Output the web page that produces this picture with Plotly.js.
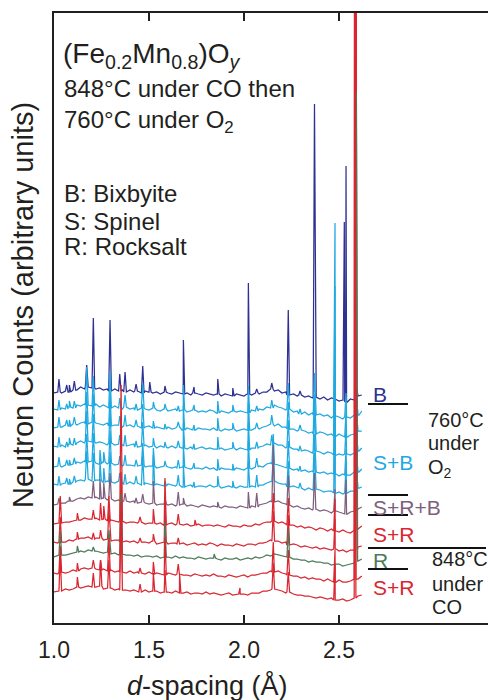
<!DOCTYPE html>
<html>
<head>
<meta charset="utf-8">
<script src="https://cdn.plot.ly/plotly-3.0.1.min.js"></script>
<style>
  html, body { margin: 0; padding: 0; background: #ffffff; }
  #chart { width: 488px; height: 700px; }
</style>
</head>
<body>
<div id="chart"></div>
<script>
// d-spacing sampling grid (Å) shared by every diffraction pattern
const dGrid = [
  1.00,1.02,1.04,1.06,1.08,1.10,1.12,1.14,1.16,1.18,
  1.20,1.22,1.24,1.26,1.28,1.30,1.32,1.34,1.36,1.38,
  1.40,1.42,1.44,1.46,1.48,1.50,1.52,1.54,1.56,1.58,
  1.60,1.62,1.64,1.66,1.68,1.70,1.72,1.74,1.76,1.78,
  1.80,1.82,1.84,1.86,1.88,1.90,1.92,1.94,1.96,1.98,
  2.00,2.02,2.04,2.06,2.08,2.10,2.12,2.14,2.16,2.18,
  2.20,2.22,2.24,2.26,2.28,2.30,2.32,2.34,2.36,2.38,
  2.40,2.42,2.44,2.46,2.48,2.50,2.52,2.54,2.56,2.58,
  2.60,2.62
];

// Vertical stacking offset of each pattern (arbitrary units), top to bottom
const offsets = [230, 213, 195, 176, 156, 138, 118, 99, 80, 66, 49, 31];

// Line colour per pattern: B, S+B (x5), S+R+B, S+R (x2), R, S+R (x2)
const colB = '#2e3192', colSB = '#1fa9e1', colSRB = '#7e5f7e', colSR = '#d92630', colR = '#4d7a58';
const lineColors = [colB, colSB, colSB, colSB, colSB, colSB, colSRB, colSR, colSR, colR, colSR, colSR];

// Background counts of each pattern on dGrid, relative to its offset
const bg1 = [0,1,0,2,1,3,3,6,4,6, 5,4,5,3,4,2,4,2,3,1, 3,1,2,0,2,1,0,1,-1,1, 0,-1,1,0,-1,0,-2,0,-1,-2,
  0,-1,-2,-1,-3,-1,-2,-3,-1,-2, -3,-1,-2,0,-1,1,1,4,2,3, 0,1,-2,-1,-3,-2,-4,-3,-5,-4, -6,-4,-7,-5,-6,-8,-7,-9,-6,-7, -3,-2];
const bg2 = [1,0,2,1,3,2,5,4,6,5, 4,6,3,5,3,2,4,2,1,3, 1,2,0,2,1,0,2,0,-1,1, -1,0,1,-1,0,-2,-1,0,-2,-1,
  -2,0,-1,-3,-1,-2,-3,-1,-2,-1, -2,-3,0,-1,1,0,3,2,5,3, 2,0,1,-2,-1,-4,-2,-5,-3,-5, -4,-6,-5,-8,-6,-7,-9,-7,-8,-5, -5,-1];
const bg3 = [0,1,1,3,2,4,3,5,6,4, 6,5,4,3,5,2,3,3,1,2, 3,1,2,0,1,2,0,1,0,-1, 1,-1,0,1,-2,0,-1,-2,0,-1,
  -1,-2,0,-2,-3,-1,-2,-1,-3,-2, -1,-2,-2,0,-1,1,2,4,2,4, 1,1,-1,-1,-3,-2,-3,-5,-4,-6, -4,-5,-7,-6,-8,-6,-8,-9,-7,-6, -3,-3];
const bg4 = [1,0,2,0,3,2,4,6,4,6, 5,4,5,4,2,4,2,3,2,1, 2,3,0,1,2,0,1,-1,1,0, -1,1,-1,0,-1,-2,0,-2,-1,0,
  -2,-1,-2,-2,-1,-3,-2,-1,-3,-1, -2,-3,-1,-1,0,1,3,2,4,2, 2,-1,0,-2,-2,-4,-3,-4,-6,-4, -5,-7,-5,-6,-8,-7,-8,-7,-8,-6, -4,-1];
const bg5 = [0,1,0,2,2,3,5,4,6,5, 6,4,3,5,3,4,2,3,1,2, 2,1,1,2,0,1,1,-1,0,1, 0,-1,0,-1,0,-1,-2,-1,-1,-2,
  0,-2,-1,-3,-1,-2,-2,-3,-1,-2, -3,-1,-2,0,1,0,3,4,3,2, 1,0,-1,-3,-2,-4,-3,-5,-4,-5, -6,-5,-7,-6,-7,-9,-7,-8,-8,-5, -5,-2];
const bg6 = [1,0,1,2,1,3,4,5,4,6, 4,5,5,3,4,3,2,4,2,1, 3,1,2,0,2,1,0,1,0,-1, 1,0,-1,0,-2,-1,0,-2,-1,-1,
  -2,0,-2,-1,-3,-2,-1,-2,-3,-1, -2,-2,-1,-2,0,0,2,3,4,2, 1,1,-2,-1,-3,-3,-5,-3,-5,-4, -5,-7,-6,-6,-8,-7,-9,-8,-6,-6, -3,-2];
const bg7 = [0,1,2,2,4,4,6,7,6,8, 7,8,6,7,5,6,4,5,3,4, 3,4,2,3,2,1,2,0,1,1, 0,1,-1,0,1,-1,0,-1,-2,0,
  -1,-2,-1,-2,-3,-1,-2,-2,-3,-1, -2,-3,-1,-2,0,1,2,4,3,4, 2,1,0,-2,-1,-3,-4,-3,-5,-4, -6,-5,-6,-8,-6,-7,-8,-9,-7,-6, -4,-2];
const bg8 = [0,1,1,2,2,3,4,4,6,5, 5,6,4,5,3,4,3,2,3,1, 2,2,1,2,0,1,1,0,1,-1, 0,1,-1,0,-1,0,-2,-1,0,-2,
  -1,-1,-2,-1,-2,-3,-1,-2,-2,-3, -1,-2,-2,0,-1,1,2,2,3,1, 2,0,-1,-1,-3,-2,-4,-3,-4,-6, -4,-5,-7,-5,-7,-8,-6,-8,-9,-6, -5,-2];
const bg9 = [1,0,1,1,3,2,4,5,5,6, 4,5,5,3,4,2,3,3,1,2, 1,2,0,1,1,0,2,-1,0,1, -1,0,0,-1,0,-2,-1,0,-2,-1,
  -2,0,-1,-3,-1,-2,-2,-3,-1,-2, -3,-1,-1,-2,0,0,1,3,2,2, 0,1,-2,-1,-2,-4,-3,-4,-5,-4, -6,-5,-6,-7,-6,-8,-7,-9,-7,-7, -4,-3];
const bg10 = [0,1,2,2,3,4,5,6,5,7, 6,6,5,4,5,3,4,2,3,2, 2,1,2,0,1,1,0,1,-1,0, 0,-1,1,-1,0,-1,-1,-2,0,-1,
  -2,-1,-1,-2,-3,-1,-2,-2,-1,-3, -2,-1,-2,0,-1,0,2,1,3,2, 1,0,0,-2,-2,-3,-3,-5,-4,-5, -5,-6,-6,-8,-7,-7,-9,-8,-7,-6, -4,-2];
const bg11 = [1,0,2,1,2,4,3,5,6,5, 6,5,4,5,3,4,2,3,2,1, 3,1,2,1,0,2,0,1,0,-1, 1,0,-1,0,-1,-1,-2,0,-1,-2,
  -1,-2,0,-2,-2,-3,-1,-2,-3,-2, -1,-3,-1,-1,0,1,1,3,2,3, 1,0,-1,-2,-2,-4,-3,-5,-4,-5, -5,-7,-5,-7,-8,-6,-8,-8,-7,-5, -5,-2];
const bg12 = [0,1,1,3,2,3,5,4,5,6, 5,5,6,3,4,4,2,3,2,2, 1,2,1,0,2,0,1,1,-1,0, 0,-1,1,-1,-1,0,-2,-1,-1,-2,
  0,-2,-1,-2,-3,-2,-1,-3,-2,-2, -2,-3,-1,-1,-1,1,1,2,3,2, 1,-1,0,-2,-3,-3,-4,-4,-5,-6, -5,-6,-7,-6,-8,-8,-7,-9,-8,-6, -4,-3];

// Bragg peaks of each pattern: [d-spacing (Å), peak height above local background]
const pk1 = [[1.026,13],[1.067,6],[1.081,7],[1.107,9],[1.172,22],[1.207,70],[1.295,71],[1.346,17],[1.374,20],
  [1.432,7],[1.467,27],[1.504,10],[1.584,6],[1.681,54],[1.737,6],[1.862,15],[1.941,8],[2.023,111],[2.067,4],
  [2.146,6],[2.233,85],[2.295,4],[2.371,293],[2.528,178],[2.537,236],[2.593,8]];
const pk2 = [[1.026,10],[1.067,5],[1.081,6],[1.107,7],[1.172,38],[1.207,30],[1.295,37],[1.346,10],[1.374,12],
  [1.432,6],[1.467,25],[1.523,6],[1.584,5],[1.654,5],[1.681,25],[1.737,5],[1.862,12],[1.941,6],[2.023,27],
  [2.067,5],[2.146,8],[2.233,26],[2.295,5],[2.371,42],[2.479,193],[2.537,24],[2.598,6]];
const pk3 = [[1.026,10],[1.067,5],[1.081,6],[1.107,7],[1.172,32],[1.207,28],[1.295,34],[1.346,9],[1.374,11],
  [1.432,6],[1.467,24],[1.523,7],[1.584,5],[1.654,5],[1.681,24],[1.737,5],[1.862,12],[1.941,6],[2.023,28],
  [2.067,5],[2.146,9],[2.233,27],[2.295,5],[2.371,40],[2.479,150],[2.537,26],[2.598,6]];
const pk4 = [[1.026,10],[1.067,5],[1.081,6],[1.107,7],[1.172,30],[1.207,28],[1.295,34],[1.346,9],[1.374,11],
  [1.432,6],[1.467,24],[1.523,8],[1.584,5],[1.654,6],[1.681,24],[1.737,5],[1.862,12],[1.941,6],[2.023,28],
  [2.067,6],[2.146,10],[2.233,27],[2.295,5],[2.371,40],[2.479,120],[2.537,26],[2.598,6]];
const pk5 = [[1.026,9],[1.067,5],[1.081,5],[1.107,6],[1.172,28],[1.207,28],[1.242,14],[1.262,10],[1.295,32],
  [1.346,8],[1.374,10],[1.432,6],[1.467,22],[1.523,18],[1.584,5],[1.654,8],[1.681,22],[1.737,5],[1.862,11],
  [1.941,6],[2.023,27],[2.067,9],[2.154,30],[2.233,27],[2.295,5],[2.371,38],[2.479,100],[2.537,26],[2.598,6]];
const pk6 = [[1.026,9],[1.067,5],[1.081,5],[1.107,6],[1.172,28],[1.207,28],[1.242,18],[1.262,14],[1.295,30],
  [1.346,8],[1.374,10],[1.432,7],[1.467,30],[1.523,30],[1.584,5],[1.654,10],[1.681,22],[1.737,5],[1.862,10],
  [1.941,6],[2.023,26],[2.067,12],[2.154,28],[2.233,26],[2.295,5],[2.371,36],[2.479,90],[2.537,28],[2.598,6]];
const pk7 = [[1.026,6],[1.081,4],[1.207,17],[1.242,20],[1.262,15],[1.295,26],[1.374,8],[1.432,5],[1.467,8],
  [1.523,22],[1.584,6],[1.654,13],[1.681,6],[1.862,5],[2.023,16],[2.067,14],[2.154,57],[2.233,30],[2.371,36],
  [2.479,22],[2.537,34],[2.588,200]];
const pk8 = [[1.033,27],[1.123,7],[1.207,9],[1.245,17],[1.262,13],[1.289,25],[1.353,136],[1.453,5],[1.523,14],
  [1.584,47],[1.654,10],[1.742,5],[2.154,28],[2.233,27],[2.479,32],[2.589,700]];
const pk9 = [[1.033,25],[1.123,7],[1.207,6],[1.245,8],[1.289,30],[1.353,70],[1.453,4],[1.523,7],[1.584,40],
  [1.654,6],[2.154,30],[2.233,30],[2.479,30],[2.589,700]];
const pk10 = [[1.033,24],[1.123,6],[1.207,4],[1.289,22],[1.353,60],[1.584,35],[1.843,4],[2.233,28],[2.591,469]];
const pk11 = [[1.033,26],[1.123,8],[1.207,8],[1.245,10],[1.289,33],[1.353,70],[1.453,5],[1.523,12],[1.584,38],
  [1.654,10],[2.154,30],[2.233,25],[2.479,32],[2.582,700]];
const pk12 = [[1.033,36],[1.123,10],[1.207,14],[1.245,26],[1.289,28],[1.353,80],[1.453,8],[1.523,18],[1.584,22],
  [1.661,19],[1.979,6],[2.154,26],[2.233,20],[2.479,36],[2.582,700]];

const backgrounds = [bg1, bg2, bg3, bg4, bg5, bg6, bg7, bg8, bg9, bg10, bg11, bg12];
const peakLists = [pk1, pk2, pk3, pk4, pk5, pk6, pk7, pk8, pk9, pk10, pk11, pk12];

// Half-width of a drawn Bragg peak at its foot (Å)
const PEAK_FOOT = 0.007;

// Merge background samples and peak profiles into one sorted polyline per pattern
function buildPattern(bg, peaks, offset) {
  const pts = dGrid.map((d, i) => [d, offset + bg[i]]);
  peaks.forEach(([d, h]) => {
    const k = Math.min(dGrid.length - 1, Math.max(0, Math.round((d - dGrid[0]) / 0.02)));
    const base = offset + bg[k];
    pts.push([d - PEAK_FOOT, base], [d, base + h], [d + PEAK_FOOT, base]);
  });
  pts.sort((a, b) => a[0] - b[0]);
  return { x: pts.map(p => p[0]), y: pts.map(p => p[1]) };
}

const traces = backgrounds.map((bg, i) => {
  const p = buildPattern(bg, peakLists[i], offsets[i]);
  return {
    type: 'scatter', mode: 'lines', x: p.x, y: p.y,
    line: { color: lineColors[i], width: 1.25 },
    hoverinfo: 'skip', showlegend: false
  };
});

// Page geometry of the plotting area (px)
const W = 488, H = 700;
const L = 54, T = 13, B = 623, R = 488;
const px = x => (x - L) / (R - L);
const py = y => (B - y) / (B - T);

const FONT = '"Liberation Sans", Arial, Helvetica, sans-serif';
const INK = '#231f20';

function label(text, x, y, size, color, opts) {
  return Object.assign({
    xref: 'paper', yref: 'paper', x: px(x), y: py(y),
    xanchor: 'left', yanchor: 'middle', showarrow: false,
    text: text, font: { family: FONT, size: size, color: color || INK }
  }, opts || {});
}

const annotations = [
  label('(Fe<sub>0.2</sub>Mn<sub>0.8</sub>)O<sub><i>y</i></sub>', 61, 55, 28),
  label('848°C under CO then', 62, 88, 24),
  label('760°C under O<sub>2</sub>', 62, 121, 24),
  label('B: Bixbyite', 62, 194, 24),
  label('S: Spinel', 62, 221, 24),
  label('R: Rocksalt', 62, 246, 24),

  label('B', 371, 394, 21, colB),
  label('S+B', 371, 463, 21, colSB),
  label('S+R+B', 371, 507, 21, colSRB),
  label('S+R', 371, 534, 21, colSR),
  label('R', 371, 560, 21, colR),
  label('S+R', 371, 587, 21, colSR),

  label('760°C', 426, 420, 20),
  label('under', 426, 443, 20),
  label('O<sub>2</sub>', 426, 468, 20),
  label('848°C', 430, 559, 20),
  label('under', 430, 584, 20),
  label('CO', 430, 607, 20),

  label('<i>d</i>-spacing (Å)', 207, 685, 27, INK, { xanchor: 'center' }),
  label('Neutron Counts (arbitrary units)', 23, 305, 29, INK, { xanchor: 'center', textangle: -90 })
];

// Short black separators between the phase labels
function rule(y, x0, x1) {
  return {
    type: 'line', xref: 'paper', yref: 'paper',
    x0: px(x0), x1: px(x1), y0: py(y), y1: py(y),
    line: { color: '#111111', width: 2 }
  };
}
const shapes = [rule(404, 368, 408), rule(495, 368, 408), rule(515, 368, 408), rule(548, 368, 486), rule(569, 368, 408)];

const layout = {
  width: W, height: H,
  margin: { l: L, r: W - R, t: T, b: H - B, pad: 0 },
  paper_bgcolor: '#ffffff', plot_bgcolor: '#ffffff',
  font: { family: FONT, color: INK },
  showlegend: false,
  xaxis: {
    range: [1.0, 1.0 + (R - L) / 190],
    tickvals: [1.0, 1.5, 2.0, 2.5], ticktext: ['1.0', '1.5', '2.0', '2.5'],
    ticks: 'inside', ticklen: 8, tickwidth: 2, tickcolor: INK,
    showline: true, linewidth: 2, linecolor: INK, mirror: 'ticks',
    showgrid: false, zeroline: false, ticklabelstandoff: 5,
    tickfont: { family: FONT, size: 23, color: INK }
  },
  yaxis: {
    range: [0, B - T],
    showticklabels: false, ticks: '',
    showline: true, linewidth: 2, linecolor: INK, mirror: false,
    showgrid: false, zeroline: false
  },
  annotations: annotations,
  shapes: shapes
};

Plotly.newPlot('chart', traces, layout, { staticPlot: true, displayModeBar: false });
</script>
</body>
</html>
